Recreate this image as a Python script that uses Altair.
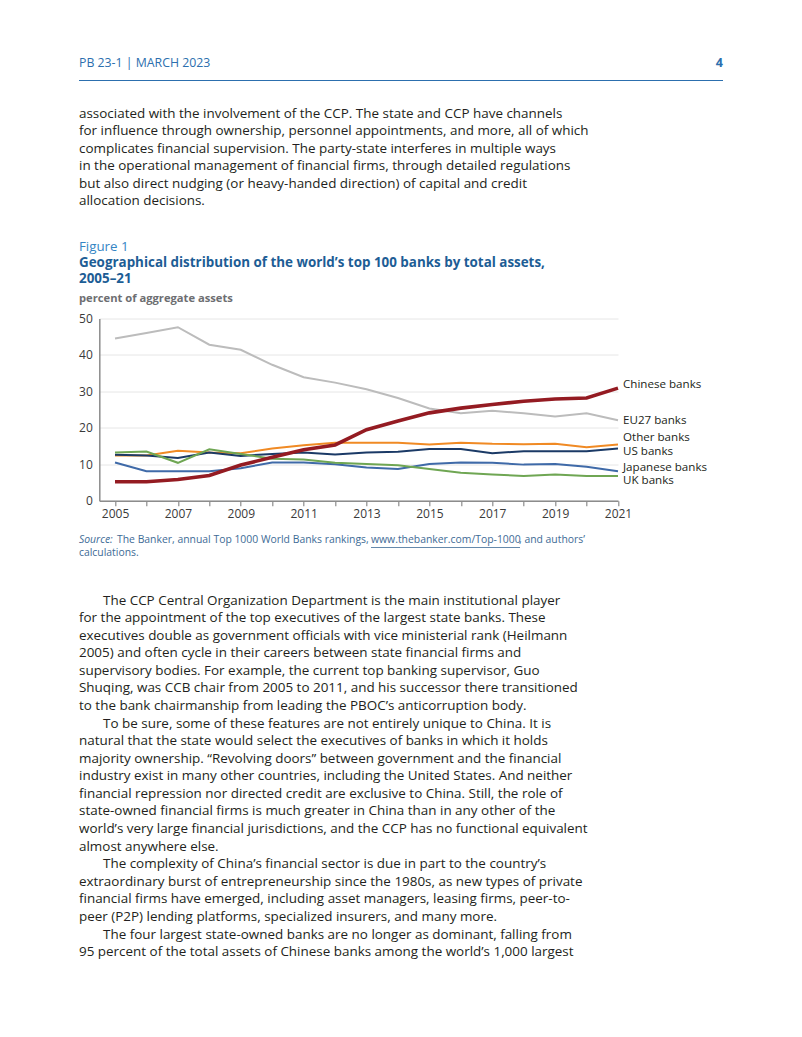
import altair as alt
import pandas as pd

# ---------------- data ----------------
years = list(range(2005, 2022))
eu27 = [44.5, 46.0, 47.6, 42.8, 41.4, 37.3, 33.9, 32.4, 30.6, 28.2, 25.3, 24.0, 24.7, 24.0, 23.1, 24.0, 22.1]
other = [12.4, 12.4, 13.7, 13.2, 13.0, 14.3, 15.2, 15.9, 15.9, 15.9, 15.4, 15.9, 15.6, 15.5, 15.6, 14.7, 15.4]
us = [12.6, 12.4, 11.7, 13.2, 12.3, 12.8, 13.2, 12.7, 13.2, 13.4, 14.2, 14.2, 13.0, 13.6, 13.6, 13.6, 14.3]
japan = [10.5, 8.1, 8.1, 8.1, 8.9, 10.5, 10.5, 10.0, 9.1, 8.7, 10.1, 10.5, 10.4, 9.9, 10.1, 9.3, 8.1]
uk = [13.2, 13.5, 10.4, 14.1, 12.8, 11.5, 11.3, 10.4, 10.1, 9.7, 8.7, 7.7, 7.2, 6.8, 7.2, 6.8, 6.8]
chinese = [5.2, 5.2, 5.8, 6.9, 9.8, 11.9, 14.0, 15.3, 19.5, 21.9, 24.1, 25.4, 26.4, 27.3, 27.9, 28.2, 30.9]

series_names = ["EU27 banks", "Other banks", "US banks", "Japanese banks", "UK banks", "Chinese banks"]
series_values = [eu27, other, us, japan, uk, chinese]
series_colors = ["#bcbcbc", "#f08a24", "#1b3a66", "#3f6aa8", "#6fa653", "#941b22"]
label_y = [21.9, 17.15, 13.4, 9.05, 5.3, 31.8]
y_ticks = [0, 10, 20, 30, 40, 50]

header_left = "PB 23-1  |  MARCH 2023"
page_number = "4"
fig_label = "Figure 1"
title_lines = ["Geographical distribution of the world\u2019s top 100 banks by total assets,", "2005\u201321"]
y_title = "percent of aggregate assets"

para1 = [
    "associated with the involvement of the CCP. The state and CCP have channels",
    "for influence through ownership, personnel appointments, and more, all of which",
    "complicates financial supervision. The party-state interferes in multiple ways",
    "in the operational management of financial firms, through detailed regulations",
    "but also direct nudging (or heavy-handed direction) of capital and credit",
    "allocation decisions.",
]
para2_first = "The CCP Central Organization Department is the main institutional player"
para2 = [
    "for the appointment of the top executives of the largest state banks. These",
    "executives double as government officials with vice ministerial rank (Heilmann",
    "2005) and often cycle in their careers between state financial firms and",
    "supervisory bodies. For example, the current top banking supervisor, Guo",
    "Shuqing, was CCB chair from 2005 to 2011, and his successor there transitioned",
    "to the bank chairmanship from leading the PBOC\u2019s anticorruption body.",
]
para3_first = "To be sure, some of these features are not entirely unique to China. It is"
para3 = [
    "natural that the state would select the executives of banks in which it holds",
    "majority ownership. \u201cRevolving doors\u201d between government and the financial",
    "industry exist in many other countries, including the United States. And neither",
    "financial repression nor directed credit are exclusive to China. Still, the role of",
    "state-owned financial firms is much greater in China than in any other of the",
    "world\u2019s very large financial jurisdictions, and the CCP has no functional equivalent",
    "almost anywhere else.",
]
para4_first = "The complexity of China\u2019s financial sector is due in part to the country\u2019s"
para4 = [
    "extraordinary burst of entrepreneurship since the 1980s, as new types of private",
    "financial firms have emerged, including asset managers, leasing firms, peer-to-",
    "peer (P2P) lending platforms, specialized insurers, and many more.",
]
para5_first = "The four largest state-owned banks are no longer as dominant, falling from"
para5 = [
    "95 percent of the total assets of Chinese banks among the world\u2019s 1,000 largest",
]
source_italic = "Source:"
source_a = "The Banker, annual Top 1000 World Banks rankings,"
source_url = "www.thebanker.com/Top-1000"
source_b = ", and authors\u2019"
source_line2 = "calculations."

# ---------------- tables ----------------
rows = []
for name, vals in zip(series_names, series_values):
    for yr, v in zip(years, vals):
        rows.append({"series": name, "year": yr, "value": v})
df = pd.DataFrame(rows)
labels_df = pd.DataFrame({"series": series_names, "year": [2021] * 6, "value": label_y})
one = pd.DataFrame({"k": [0]})

FONT = "Open Sans"
BODY = "#231f20"
BODY_SIZE = 13.45
LH = 17.58

# page coordinates of plot-area origin
PX, PY = 99.3, 318.5
W, H = 518.7, 182.2


def px(x):
    return x - PX


def py(y):
    return y - PY


def txt(lines, x, ytop, size=BODY_SIZE, color=BODY, weight="normal", style="normal", align="left", lh=LH):
    return alt.Chart(one).mark_text(
        text=lines, align=align, baseline="top", fontSize=size, color=color,
        fontWeight=weight, fontStyle=style, font=FONT, lineHeight=lh,
    ).encode(x=alt.value(px(x)), y=alt.value(py(ytop)))


def hrule(x1, x2, y, color, width=1.0):
    return alt.Chart(one).mark_rule(color=color, strokeWidth=width).encode(
        x=alt.value(px(x1)), x2=alt.value(px(x2)), y=alt.value(py(y))
    )


color_scale = alt.Scale(domain=series_names, range=series_colors)
x_axis = alt.Axis(
    values=years, format="d", labelExpr="datum.value % 2 == 1 ? datum.label : ''",
    grid=False, ticks=True, tickSize=5, tickColor="#8c8c8c", tickWidth=1.2,
    domainColor="#8c8c8c", domainWidth=1.5, labelPadding=3, labelFontSize=12,
    labelFont=FONT, labelColor="#3a3a3a", title=None, labelFlush=False,
    labelOverlap=False,
)
y_axis = alt.Axis(
    values=y_ticks, tickCount=6, grid=True, gridColor="#e6e6e6", gridWidth=1, ticks=False,
    domainColor="#8c8c8c", domainWidth=1.5, labelPadding=7, labelFontSize=12,
    labelFont=FONT, labelColor="#3a3a3a", title=None, labelOverlap=False,
    labelFlush=False,
)
x_scale = alt.Scale(domain=[2004.5, 2021], nice=False, zero=False)
y_scale = alt.Scale(domain=[0, 50], nice=False)


def xe():
    return alt.X("year:Q", scale=x_scale, axis=x_axis)


def ye():
    return alt.Y("value:Q", scale=y_scale, axis=y_axis)


base = alt.Chart(df)
gray = base.transform_filter(alt.datum.series == "EU27 banks").mark_line(strokeWidth=2).encode(
    x=xe(), y=ye(), color=alt.Color("series:N", scale=color_scale, legend=None)
)
thin = base.transform_filter(
    "datum.series != 'EU27 banks' && datum.series != 'Chinese banks'"
).mark_line(strokeWidth=2).encode(
    x=xe(), y=ye(), color=alt.Color("series:N", scale=color_scale, legend=None), detail="series:N"
)
red = base.transform_filter(alt.datum.series == "Chinese banks").mark_line(strokeWidth=3.6).encode(
    x=xe(), y=ye(), color=alt.Color("series:N", scale=color_scale, legend=None)
)
end_labels = alt.Chart(labels_df).mark_text(
    align="left", baseline="middle", dx=5, fontSize=11.6, font=FONT, color=BODY
).encode(x=xe(), y=ye(), text="series:N")

layers = [
    gray, thin, red, end_labels,
    txt(header_left, 79, 56.5, size=12.3, color="#2c6fae"),
    txt(page_number, 723, 56.5, size=12.5, color="#2c6fae", weight="bold", align="right"),
    hrule(79, 723, 80.5, "#2c6fae", 1.2),
    txt(para1, 79, 106.5),
    txt(fig_label, 79, 239.5, size=13.3, color="#3585c4"),
    txt(title_lines, 79, 256, size=13.4, color="#1d5d95", weight="bold", lh=16),
    txt(y_title, 79, 293, size=11.2, color="#6d6e71", weight="bold"),
    txt(source_italic, 79, 535, size=10.4, color="#3e6b96", style="italic"),
    txt(source_a, 117, 535, size=10.4, color="#3e6b96"),
    txt(source_url, 371, 535, size=10.4, color="#3e6b96"),
    hrule(371, 520, 547.5, "#3e6b96", 0.8),
    txt(source_b, 519, 535, size=10.4, color="#3e6b96"),
    txt(source_line2, 79, 547.5, size=10.4, color="#3e6b96"),
    txt(para2_first, 103, 593.5),
    txt(para2, 79, 593.5 + LH),
    txt(para3_first, 103, 593.5 + 7 * LH),
    txt(para3, 79, 593.5 + 8 * LH),
    txt(para4_first, 103, 593.5 + 15 * LH),
    txt(para4, 79, 593.5 + 16 * LH),
    txt(para5_first, 103, 593.5 + 19 * LH),
    txt(para5, 79, 593.5 + 20 * LH),
]

chart = alt.layer(*layers).properties(
    width=W, height=H,
    autosize=alt.AutoSizeParams(type="none"),
    padding={"left": PX - 8, "top": PY - 8, "right": 786 - (PX - 8) - W, "bottom": 1021 - (PY - 8) - H},
    background="white",
).configure_view(stroke=None)

chart.save("out.html", embed_options={"renderer": "svg", "actions": False})
